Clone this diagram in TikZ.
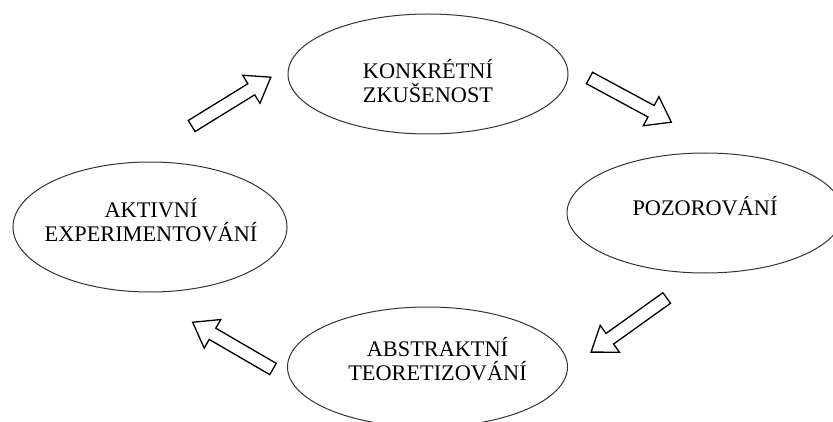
\documentclass[tikz,border=0pt]{standalone}
\usepackage{fontspec}
\setmainfont{Liberation Serif}
\usetikzlibrary{shapes.geometric,calc}

\tikzset{
  stage/.style={ellipse, draw=black!80, line width=1pt, inner sep=0pt},
  % anchored at the baseline of the last line
  caption/.style={anchor=base, align=center, inner sep=0pt,
    font=\fontsize{22.3pt}{24pt}\selectfont},
  blockarrow/.style={draw=black, line width=1.3pt, line join=miter, fill=white},
}

% hollow block arrow from coordinate #1 towards coordinate #2
\newcommand\flowarrow[2]{%
  \pgfmathanglebetweenpoints{\pgfpointanchor{#1}{center}}{\pgfpointanchor{#2}{center}}%
  \let\arang\pgfmathresult
  \draw[blockarrow, shift={(#1)}, rotate=\arang]
    (0,-6.5) -- (70,-6.5) -- (70,-16.5) -- (93,0) -- (70,16.5) -- (70,6.5) -- (0,6.5) -- cycle;
}

\begin{document}
\begin{tikzpicture}[x=1pt,y=1pt]
\useasboundingbox (0,0) rectangle (833,421);

% the four stages of the learning cycle
\node[stage, minimum width=280pt, minimum height=120pt] (konkr) at (428,347) {};
\node[stage, minimum width=276pt, minimum height=120pt] (pozor) at (705,208) {};
\node[stage, minimum width=274pt, minimum height=130pt] (aktiv) at (150,194) {};
\node[stage, minimum width=280pt, minimum height=120pt] (abstr) at (427.5,54) {};

\node[caption] (tkonkr) at (428,318.5) {KONKRÉTNÍ\\ZKUŠENOST};
\node[caption] (tpozor) at (705,205) {POZOROVÁNÍ};
\node[caption] (taktiv) at (151,179.5) {AKTIVNÍ\\EXPERIMENTOVÁNÍ};
\node[caption] (tabstr) at (437.5,41) {ABSTRAKTNÍ\\TEORETIZOVÁNÍ};

% arrow ends
\coordinate (a1s) at (191.7,295);  \coordinate (a1e) at (271.7,344.3);
\coordinate (a2s) at (589.5,343);  \coordinate (a2e) at (671,299);
\coordinate (a3s) at (666.7,123);  \coordinate (a3e) at (591.7,69.3);
\coordinate (a4s) at (273,52);     \coordinate (a4e) at (191.7,99.3);

\flowarrow{a1s}{a1e}
\flowarrow{a2s}{a2e}
\flowarrow{a3s}{a3e}
\flowarrow{a4s}{a4e}
\end{tikzpicture}
\end{document}
